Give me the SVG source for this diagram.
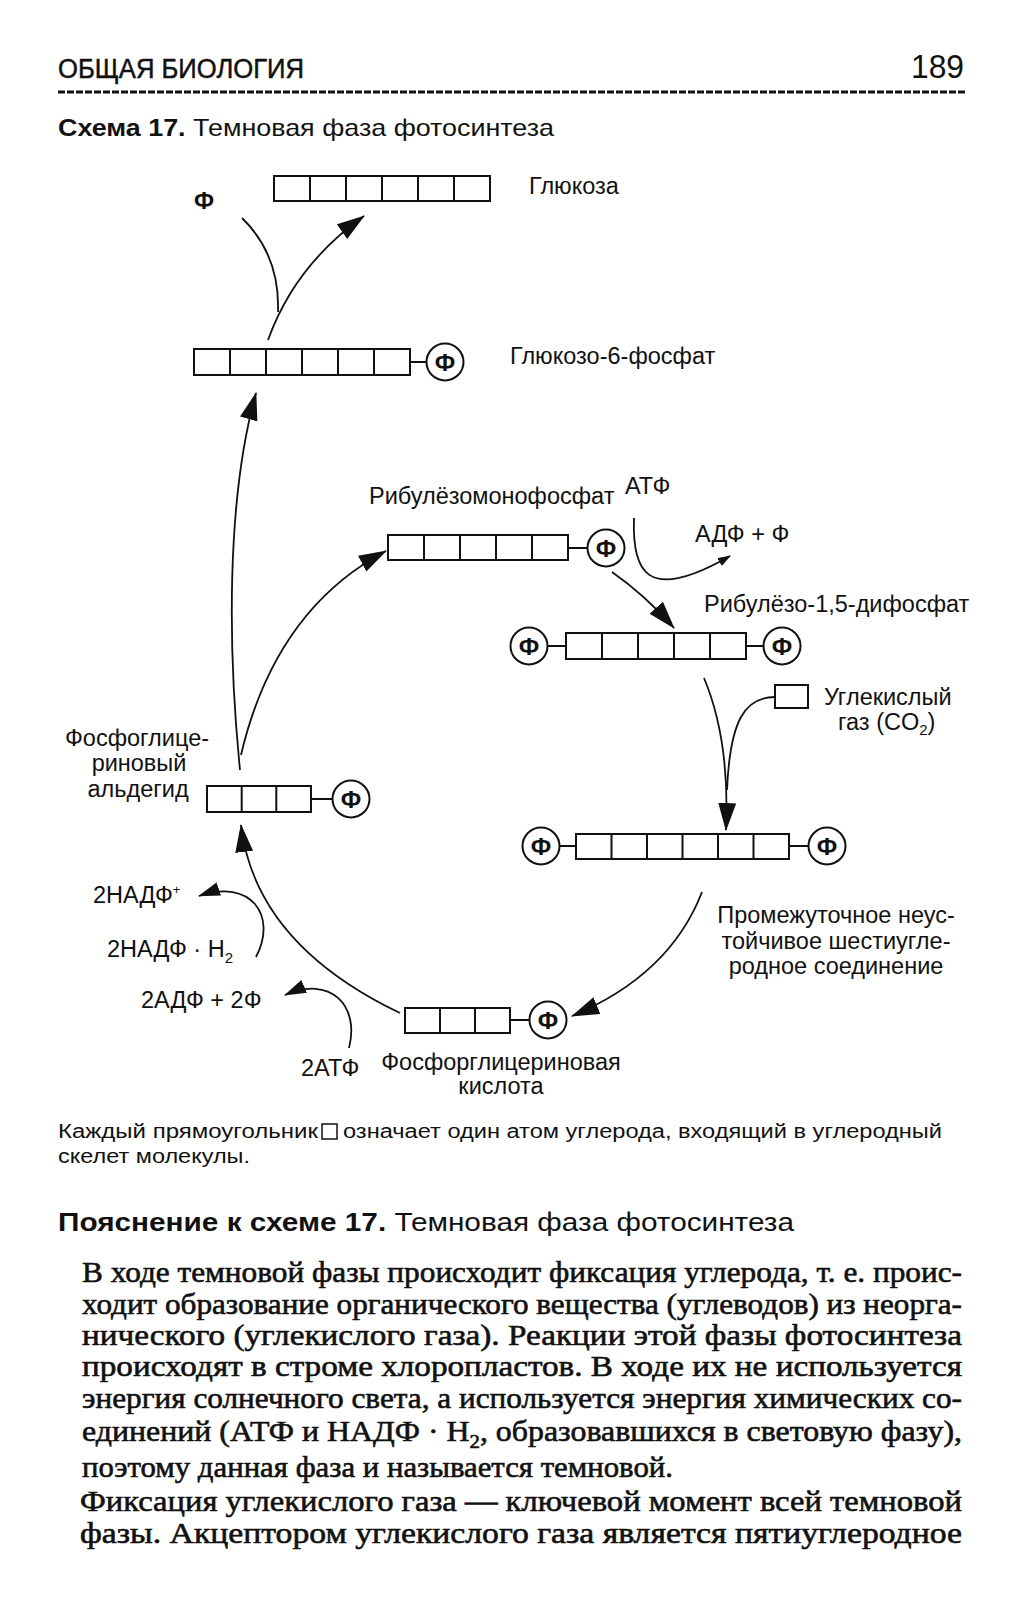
<svg xmlns="http://www.w3.org/2000/svg" width="1019" height="1600" viewBox="0 0 1019 1600">
<style>
text{font-family:"Liberation Sans",Arial,sans-serif;fill:#111}
.lbl{font-size:23.5px}
.phi{font-size:24px;font-weight:bold;text-anchor:middle}
.box{fill:#fff;stroke:#111;stroke-width:2}
.div{stroke:#111;stroke-width:2;fill:none}
.circ{fill:#fff;stroke:#111;stroke-width:2}
.con{fill:none;stroke:#111;stroke-width:1.8}
.para{font-family:"Liberation Serif","Times New Roman",serif;font-size:29px;stroke:#111;stroke-width:0.6}
</style>
<defs>
<marker id="big" markerUnits="userSpaceOnUse" markerWidth="28" markerHeight="18" refX="27" refY="9" orient="auto"><path d="M0,0 L28,9 L0,18 Z" fill="#111"/></marker>
<marker id="mid" markerUnits="userSpaceOnUse" markerWidth="22" markerHeight="14" refX="21" refY="7" orient="auto"><path d="M0,0 L22,7 L0,14 Z" fill="#111"/></marker>
<marker id="sml" markerUnits="userSpaceOnUse" markerWidth="13" markerHeight="9" refX="12" refY="4.5" orient="auto"><path d="M0,0 L13,4.5 L0,9 Z" fill="#111"/></marker>
</defs>
<rect width="1019" height="1600" fill="#fff"/>

<g id="header">
<text x="58" y="78" font-size="27" textLength="246" lengthAdjust="spacingAndGlyphs" stroke="#111" stroke-width="0.5">ОБЩАЯ БИОЛОГИЯ</text>
<text x="911" y="78" font-size="33" textLength="53" lengthAdjust="spacingAndGlyphs">189</text>
<line x1="58" y1="92" x2="966" y2="92" stroke="#111" stroke-width="3" stroke-dasharray="7 2"/>
<text x="58" y="136" font-size="24" textLength="496" lengthAdjust="spacingAndGlyphs"><tspan font-weight="bold">Схема 17.</tspan> Темновая фаза фотосинтеза</text>
</g>

<g id="glucose">
<rect class="box" x="274" y="176" width="216" height="25"/>
<path class="div" d="M310,176V201M346,176V201M382,176V201M418,176V201M454,176V201"/>
<text class="lbl" x="529" y="194">Глюкоза</text>
</g>

<g id="phosphate-free">
<text class="lbl" x="204" y="209" text-anchor="middle" font-weight="bold">Ф</text>
</g>

<g id="g6p">
<rect class="box" x="194" y="349" width="216" height="26"/>
<path class="div" d="M230,349V375M266,349V375M302,349V375M338,349V375M374,349V375M410,362H427"/>
<circle class="circ" cx="445" cy="362" r="18.5"/>
<text class="phi" x="445" y="370.5">Ф</text>
<text class="lbl" x="510" y="364">Глюкозо-6-фосфат</text>
</g>

<g id="rump">
<text class="lbl" x="369" y="504">Рибулёзомонофосфат</text>
<rect class="box" x="388" y="535" width="180" height="25"/>
<path class="div" d="M424,535V560M460,535V560M496,535V560M532,535V560M568,548H588"/>
<circle class="circ" cx="606" cy="548" r="18.5"/>
<text class="phi" x="606" y="556.5">Ф</text>
</g>

<g id="atp-top">
<text class="lbl" x="625" y="494">АТФ</text>
<text class="lbl" x="695" y="542">АДФ + Ф</text>
</g>

<g id="rubp">
<text class="lbl" x="704" y="612">Рибулёзо-1,5-дифосфат</text>
<circle class="circ" cx="529" cy="646" r="18.5"/>
<text class="phi" x="529" y="654.5">Ф</text>
<rect class="box" x="566" y="633" width="180" height="26"/>
<path class="div" d="M547,646H566M602,633V659M638,633V659M674,633V659M710,633V659M746,646H764"/>
<circle class="circ" cx="782" cy="646" r="18.5"/>
<text class="phi" x="782" y="654.5">Ф</text>
</g>

<g id="co2">
<rect class="box" x="775" y="685" width="33" height="23"/>
<text class="lbl" x="824" y="705">Углекислый</text>
<text class="lbl" x="838" y="730">газ (CO<tspan font-size="15" dy="5">2</tspan><tspan dy="-5">)</tspan></text>
</g>

<g id="c6">
<circle class="circ" cx="541" cy="846" r="18.5"/>
<text class="phi" x="541" y="854.5">Ф</text>
<rect class="box" x="576" y="834" width="213" height="25"/>
<path class="div" d="M559,846H576M611.5,834V859M647,834V859M682.5,834V859M718,834V859M753.5,834V859M789,846H809"/>
<circle class="circ" cx="827" cy="846" r="18.5"/>
<text class="phi" x="827" y="854.5">Ф</text>
<text class="lbl" x="836" y="923" text-anchor="middle">Промежуточное неус-</text>
<text class="lbl" x="836" y="949" text-anchor="middle">тойчивое шестиугле-</text>
<text class="lbl" x="836" y="974" text-anchor="middle">родное соединение</text>
</g>

<g id="pga">
<rect class="box" x="405" y="1008" width="105" height="25"/>
<path class="div" d="M440,1008V1033M475,1008V1033M510,1020H530"/>
<circle class="circ" cx="548" cy="1020" r="18.5"/>
<text class="phi" x="548" y="1028.5">Ф</text>
<text class="lbl" x="501" y="1070" text-anchor="middle">Фосфорглицериновая</text>
<text class="lbl" x="501" y="1094" text-anchor="middle">кислота</text>
</g>

<g id="pgald">
<text class="lbl" x="137" y="746" text-anchor="middle">Фосфоглице-</text>
<text class="lbl" x="139" y="771" text-anchor="middle">риновый</text>
<text class="lbl" x="138" y="797" text-anchor="middle">альдегид</text>
<rect class="box" x="207" y="786" width="104" height="26"/>
<path class="div" d="M241.7,786V812M276.3,786V812M311,799H333"/>
<circle class="circ" cx="351" cy="799" r="18.5"/>
<text class="phi" x="351" y="807.5">Ф</text>
</g>

<g id="cofactors">
<text class="lbl" x="93" y="903">2НАДФ<tspan font-size="13" dy="-9">+</tspan></text>
<text class="lbl" x="107" y="957">2НАДФ · H<tspan font-size="15" dy="6">2</tspan></text>
<text class="lbl" x="141" y="1008">2АДФ + 2Ф</text>
<text class="lbl" x="301" y="1076">2АТФ</text>
</g>

<g id="connectors">
<path class="con" d="M268,340 Q295,265 364,216" marker-end="url(#big)"/>
<path class="con" d="M242,218 Q280,255 278,312"/>
<path class="con" d="M240,770 C228,650 226,500 256,393" marker-end="url(#big)"/>
<path class="con" d="M241,755 Q275,610 386,551" marker-end="url(#big)"/>
<path class="con" d="M634,518 C632,570 645,605 730,556" marker-end="url(#sml)"/>
<path class="con" d="M612,572 Q645,595 674,628" marker-end="url(#big)"/>
<path class="con" d="M704,678 Q730,740 726,830" marker-end="url(#big)"/>
<path class="con" d="M775,697 C745,697 730,720 727,790"/>
<path class="con" d="M702,892 Q670,975 572,1016" marker-end="url(#big)"/>
<path class="con" d="M400,1013 C300,965 250,900 241,825" marker-end="url(#big)"/>
<path class="con" d="M256,957 C278,915 250,878 199,896" marker-end="url(#mid)"/>
<path class="con" d="M349,1048 C360,1005 330,975 285,995" marker-end="url(#mid)"/>
</g>

<g id="caption">
<text x="58" y="1138" font-size="20" textLength="260" lengthAdjust="spacingAndGlyphs">Каждый прямоугольник</text>
<rect x="322" y="1124" width="15" height="15" fill="none" stroke="#111" stroke-width="1.5"/>
<text x="343" y="1138" font-size="20" textLength="599" lengthAdjust="spacingAndGlyphs">означает один атом углерода, входящий в углеродный</text>
<text x="58" y="1163" font-size="20" textLength="192" lengthAdjust="spacingAndGlyphs">скелет молекулы.</text>
</g>

<g id="explanation">
<text x="58" y="1231" font-size="25" textLength="736" lengthAdjust="spacingAndGlyphs"><tspan font-weight="bold">Пояснение к схеме 17.</tspan> Темновая фаза фотосинтеза</text>
<text class="para" x="82" y="1282" textLength="880" lengthAdjust="spacingAndGlyphs">В ходе темновой фазы происходит фиксация углерода, т. е. проис-</text>
<text class="para" x="82" y="1314" textLength="880" lengthAdjust="spacingAndGlyphs">ходит образование органического вещества (углеводов) из неорга-</text>
<text class="para" x="82" y="1345" textLength="880" lengthAdjust="spacingAndGlyphs">нического (углекислого газа). Реакции этой фазы фотосинтеза</text>
<text class="para" x="82" y="1376" textLength="880" lengthAdjust="spacingAndGlyphs">происходят в строме хлоропластов. В ходе их не используется</text>
<text class="para" x="82" y="1408" textLength="880" lengthAdjust="spacingAndGlyphs">энергия солнечного света, а используется энергия химических со-</text>
<text class="para" x="82" y="1441" textLength="880" lengthAdjust="spacingAndGlyphs">единений (АТФ и НАДФ · H<tspan font-size="19" dy="7">2</tspan><tspan dy="-7">, образовавшихся в световую фазу),</tspan></text>
<text class="para" x="82" y="1477" textLength="591" lengthAdjust="spacingAndGlyphs">поэтому данная фаза и называется темновой.</text>
<text class="para" x="80" y="1511" textLength="882" lengthAdjust="spacingAndGlyphs">Фиксация углекислого газа — ключевой момент всей темновой</text>
<text class="para" x="80" y="1543" textLength="882" lengthAdjust="spacingAndGlyphs">фазы. Акцептором углекислого газа является пятиуглеродное</text>
</g>
</svg>
